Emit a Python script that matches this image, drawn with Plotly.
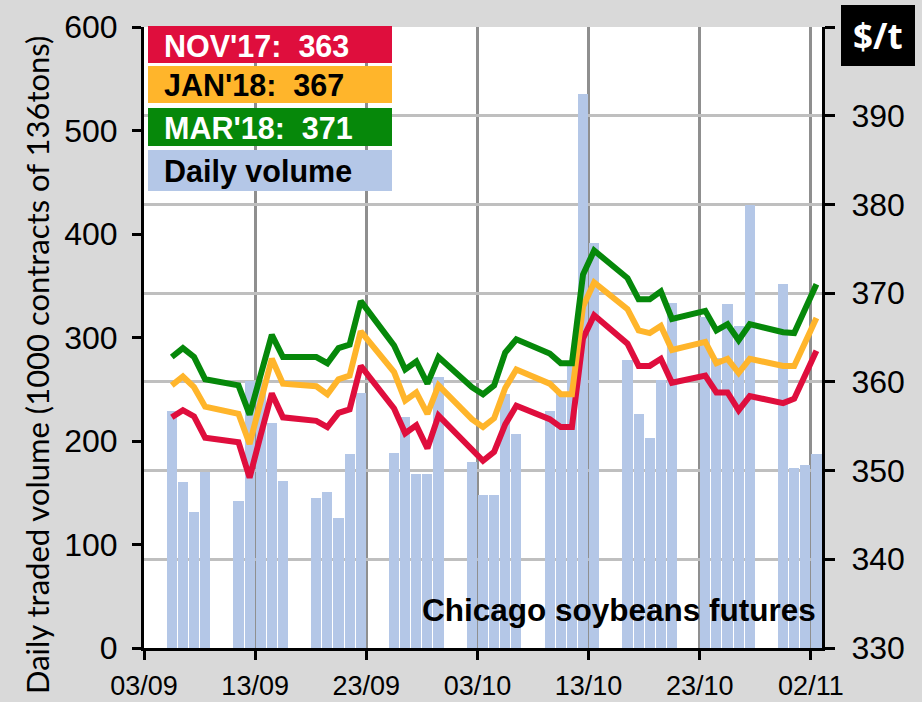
import plotly.graph_objects as go

# ---------------- data ----------------
dates = [
    "2017-09-05", "2017-09-06", "2017-09-07", "2017-09-08",
    "2017-09-11", "2017-09-12", "2017-09-13", "2017-09-14", "2017-09-15",
    "2017-09-18", "2017-09-19", "2017-09-20", "2017-09-21", "2017-09-22",
    "2017-09-25", "2017-09-26", "2017-09-27", "2017-09-28", "2017-09-29",
    "2017-10-02", "2017-10-03", "2017-10-04", "2017-10-05", "2017-10-06",
    "2017-10-09", "2017-10-10", "2017-10-11", "2017-10-12", "2017-10-13",
    "2017-10-16", "2017-10-17", "2017-10-18", "2017-10-19", "2017-10-20",
    "2017-10-23", "2017-10-24", "2017-10-25", "2017-10-26", "2017-10-27",
    "2017-10-30", "2017-10-31", "2017-11-01", "2017-11-02",
]

volume = [
    229, 160, 131, 170,
    142, 258, 256, 217, 161,
    145, 151, 126, 187, 246,
    188, 223, 168, 168, 262,
    180, 148, 148, 245, 207,
    229, 245, 272, 535, 391,
    278, 226, 203, 259, 333,
    320, 280, 332, 311, 428,
    352, 174, 177, 187,
]

nov17 = [
    356.0, 356.8, 356.1, 353.7,
    353.2, 349.2, 354.0, 358.7, 356.0,
    355.6, 354.9, 356.5, 356.9, 361.8,
    357.0, 354.2, 355.1, 352.5, 356.2,
    352.2, 351.1, 352.1, 355.2, 357.3,
    355.8, 354.9, 354.9, 364.9, 367.5,
    364.3, 361.8, 361.8, 362.6, 359.9,
    360.7, 358.8, 358.8, 356.8, 358.4,
    357.6, 358.1, 360.8, 363.5,
]

jan18 = [
    359.6, 360.6, 359.4, 357.2,
    356.4, 353.0, 357.8, 362.6, 359.8,
    359.5, 358.6, 360.3, 360.7, 365.7,
    361.1, 357.9, 358.8, 356.4, 359.6,
    355.8, 354.9, 355.9, 359.3, 361.4,
    359.8, 358.6, 358.6, 368.5, 371.2,
    368.2, 365.8, 365.5, 366.3, 363.6,
    364.5, 362.1, 362.6, 361.0, 362.6,
    361.8, 361.8, 364.5, 367.2,
]

mar18 = [
    362.8, 363.8, 362.8, 360.3,
    359.6, 356.3, 360.8, 365.3, 362.8,
    362.8, 362.1, 363.8, 364.2, 369.1,
    364.1, 361.4, 362.3, 359.8, 362.8,
    359.4, 358.6, 359.6, 363.3, 364.8,
    363.2, 362.1, 362.1, 372.1, 374.8,
    371.7, 369.3, 369.3, 370.2, 367.1,
    368.0, 365.8, 366.5, 364.7, 366.5,
    365.6, 365.5, 368.2, 371.0,
]

x_tick_vals = ["2017-09-03", "2017-09-13", "2017-09-23", "2017-10-03",
               "2017-10-13", "2017-10-23", "2017-11-02"]
x_tick_text = ["03/09", "13/09", "23/09", "03/10", "13/10", "23/10", "02/11"]
left_tick_vals = [0, 100, 200, 300, 400, 500, 600]
right_tick_vals = [330, 340, 350, 360, 370, 380, 390, 400]
right_tick_text = ["330", "340", "350", "360", "370", "380", "390", ""]

legend_labels = ["NOV'17:\u00a0\u00a0363", "JAN'18:\u00a0\u00a0367",
                 "MAR'18:\u00a0\u00a0371", "Daily volume"]

# ---------------- style ----------------
RED = "#DF0E3D"
ORANGE = "#FFB52B"
GREEN = "#06880A"
BAR = "#B4C7E7"
BG = "#D9D9D9"
DAY = 86400000

W, H = 922, 702
L, R, T, B = 144, 100, 27, 54
PW, PH = W - L - R, H - T - B


def px(x):
    return (x - L) / PW


def py(y):
    return (H - B - y) / PH


fig = go.Figure()
fig.add_trace(go.Bar(
    x=dates, y=volume, xperiod=DAY, xperiodalignment="middle",
    width=0.91 * DAY, marker=dict(color=BAR, line=dict(width=0)),
    yaxis="y", name="Daily volume",
))
for vals, col, nm in [(nov17, RED, "NOV'17"), (jan18, ORANGE, "JAN'18"),
                      (mar18, GREEN, "MAR'18")]:
    fig.add_trace(go.Scatter(
        x=dates, y=vals, xperiod=DAY, xperiodalignment="middle",
        mode="lines", line=dict(color=col, width=6), yaxis="y2", name=nm,
    ))

tickfont = dict(family="Liberation Sans, Arial", size=32, color="black")

fig.update_layout(
    width=W, height=H,
    margin=dict(l=L, r=R, t=T, b=B, pad=0, autoexpand=False),
    paper_bgcolor=BG, plot_bgcolor="white",
    showlegend=False,
    bargap=0,
    xaxis=dict(
        type="date", range=["2017-09-03", "2017-11-03"],
        tickmode="array", tickvals=x_tick_vals, ticktext=x_tick_text,
        tickfont=dict(family="Liberation Sans, Arial", size=27, color="black"),
        showgrid=True, gridcolor="#8F8F8F", gridwidth=2.5,
        ticks="outside", ticklen=9, tickwidth=3, tickcolor="black",
        showline=True, linewidth=3, linecolor="black",
        zeroline=False, ticklabelstandoff=3,
    ),
    yaxis=dict(
        range=[0, 600], tickmode="array", tickvals=left_tick_vals,
        tickfont=tickfont, showgrid=False, zeroline=False,
        ticks="outside", ticklen=9, tickwidth=3, tickcolor="black",
        showline=True, linewidth=3, linecolor="black",
        ticklabelstandoff=8,
    ),
    yaxis2=dict(
        overlaying="y", side="right", range=[330, 400],
        tickmode="array", tickvals=right_tick_vals, ticktext=right_tick_text,
        tickfont=tickfont, showgrid=True, gridcolor="#BFBFBF", gridwidth=3,
        zeroline=False,
        ticks="outside", ticklen=10, tickwidth=3, tickcolor="black",
        showline=True, linewidth=3, linecolor="black",
        ticklabelstandoff=10,
    ),
)

# legend boxes
box_rows = [(26, 63), (66, 103), (108, 146), (150, 191)]
box_cols = [RED, ORANGE, GREEN, BAR]
txt_cols = ["white", "black", "white", "black"]
shapes = []
annotations = []
for (y0, y1), bc, tc, lab in zip(box_rows, box_cols, txt_cols, legend_labels):
    shapes.append(dict(type="rect", xref="paper", yref="paper",
                       x0=px(148), x1=px(392), y0=py(y1), y1=py(y0),
                       fillcolor=bc, line=dict(width=0), layer="above"))
    annotations.append(dict(xref="paper", yref="paper", x=px(162),
                            y=py((y0 + y1) / 2 + 1), xanchor="left",
                            yanchor="middle", showarrow=False, text=lab,
                            font=dict(family="Liberation Sans, Arial",
                                      size=30.5, color=tc, weight="bold")))

# $/t box
shapes.append(dict(type="rect", xref="paper", yref="paper",
                   x0=px(841), x1=px(915), y0=py(66), y1=py(5),
                   fillcolor="black", line=dict(width=0), layer="above"))
annotations.append(dict(xref="paper", yref="paper", x=px(878), y=py(36),
                        xanchor="center", yanchor="middle", showarrow=False,
                        text="$/t", font=dict(family="Open Sans", size=35,
                                              color="white", weight="bold")))

# chart note
annotations.append(dict(xref="paper", yref="paper", x=px(818), y=py(610),
                        xanchor="right", yanchor="middle", showarrow=False,
                        text="Chicago soybeans futures",
                        font=dict(family="Liberation Sans, Arial", size=31.5,
                                  color="black", weight="bold")))

# left axis title
annotations.append(dict(xref="paper", yref="paper", x=px(37), y=py(365),
                        xanchor="center", yanchor="middle", showarrow=False,
                        textangle=-90,
                        text="Daily traded volume (1000 contracts of 136tons)",
                        font=dict(family="Lato", size=31, color="black")))

fig.update_layout(shapes=shapes, annotations=annotations)

fig.write_html(
    "out.html",
    config={"displayModeBar": False},
    post_script="document.body.style.margin='0px';"
                "document.body.style.background='#D9D9D9';",
)
